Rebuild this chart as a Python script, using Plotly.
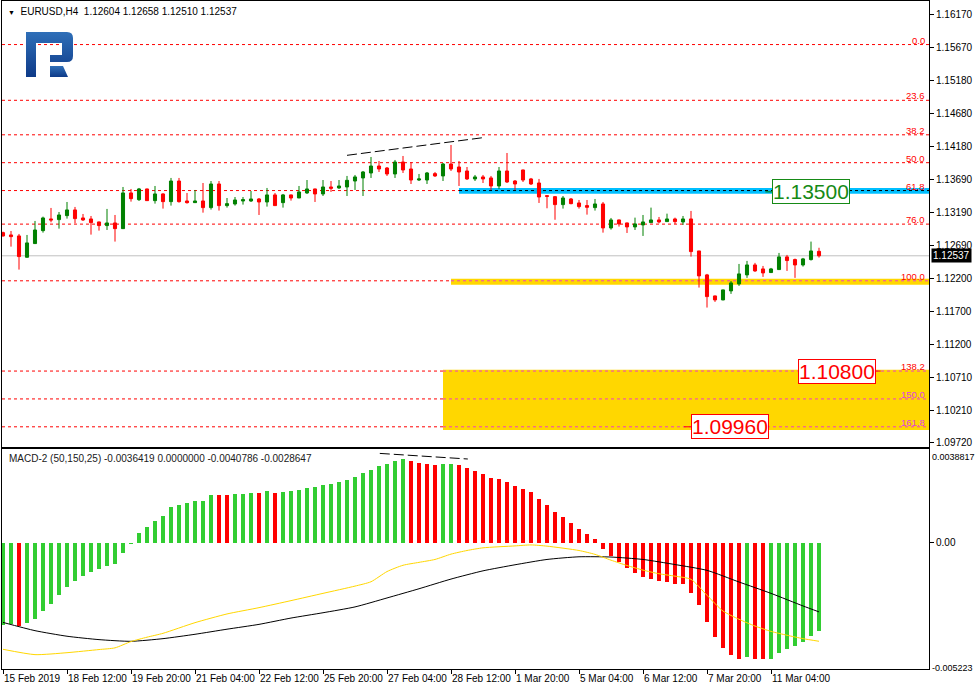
import base64
import plotly.graph_objects as go

# ---------------- data ----------------
bar_idx = list(range(103))
opens = [1.12886, 1.12851, 1.12836, 1.12515, 1.12721, 1.12916, 1.13092, 1.13082, 1.13142, 1.13228,
         1.13107, 1.13092, 1.13047, 1.12992, 1.13032, 1.12946, 1.13484, 1.13383, 1.13544, 1.13368,
         1.13469, 1.13353, 1.13664, 1.13363, 1.13338, 1.13363, 1.13263, 1.13619, 1.13293, 1.13318,
         1.13363, 1.13363, 1.13393, 1.13348, 1.13454, 1.13338, 1.13454, 1.13408, 1.13484, 1.13544,
         1.13469, 1.13574, 1.13559, 1.13574, 1.13664, 1.13710, 1.13785, 1.13890, 1.13860, 1.13770,
         1.13950, 1.13845, 1.13679, 1.13679, 1.13775, 1.13740, 1.13920, 1.13875, 1.13815, 1.13695,
         1.13725, 1.13710, 1.13589, 1.13815, 1.13664, 1.13830, 1.13695, 1.13634, 1.13443, 1.13428,
         1.13308, 1.13393, 1.13333, 1.13293, 1.13263, 1.13318, 1.12957, 1.13077, 1.13032, 1.12972,
         1.13002, 1.13037, 1.13077, 1.13052, 1.13092, 1.13047, 1.13092, 1.12610, 1.12249, 1.11932,
         1.11872, 1.12008, 1.12113, 1.12249, 1.12399, 1.12339, 1.12284, 1.12329, 1.12520, 1.12480,
         1.12399, 1.12480, 1.12604]
highs = [1.12901, 1.12911, 1.12866, 1.12851, 1.13062, 1.13127, 1.13258, 1.13197, 1.13348, 1.13273,
         1.13167, 1.13137, 1.13052, 1.13243, 1.13152, 1.13574, 1.13544, 1.13559, 1.13549, 1.13589,
         1.13479, 1.13710, 1.13710, 1.13484, 1.13529, 1.13634, 1.13664, 1.13664, 1.13408, 1.13423,
         1.13423, 1.13514, 1.13408, 1.13559, 1.13484, 1.13469, 1.13459, 1.13589, 1.13679, 1.13549,
         1.13679, 1.13664, 1.13679, 1.13740, 1.13755, 1.13815, 1.14026, 1.13966, 1.13875, 1.13981,
         1.14041, 1.13950, 1.13770, 1.13800, 1.13800, 1.13935, 1.14207, 1.13966, 1.13875, 1.13755,
         1.13755, 1.13740, 1.13875, 1.14086, 1.13679, 1.13835, 1.13710, 1.13695, 1.13448, 1.13438,
         1.13438, 1.13408, 1.13378, 1.13378, 1.13393, 1.13348, 1.13107, 1.13082, 1.13037, 1.13112,
         1.13152, 1.13263, 1.13122, 1.13172, 1.13112, 1.13137, 1.13213, 1.12610, 1.12264, 1.11937,
         1.12028, 1.12158, 1.12414, 1.12460, 1.12430, 1.12384, 1.12354, 1.12580, 1.12550, 1.12495,
         1.12505, 1.12751, 1.12658]
lows = [1.12826, 1.12675, 1.12329, 1.12510, 1.12716, 1.12886, 1.13042, 1.12946, 1.13097, 1.13027,
        1.13062, 1.12856, 1.12916, 1.12926, 1.12751, 1.12941, 1.13353, 1.13363, 1.13368, 1.13323,
        1.13248, 1.13293, 1.13338, 1.13323, 1.13333, 1.13187, 1.13233, 1.13218, 1.13263, 1.13293,
        1.13308, 1.13348, 1.13152, 1.13278, 1.13293, 1.13263, 1.13368, 1.13408, 1.13469, 1.13348,
        1.13438, 1.13499, 1.13544, 1.13438, 1.13529, 1.13438, 1.13710, 1.13800, 1.13740, 1.13710,
        1.13785, 1.13619, 1.13664, 1.13619, 1.13725, 1.13664, 1.13815, 1.13589, 1.13679, 1.13664,
        1.13634, 1.13529, 1.13544, 1.13634, 1.13529, 1.13649, 1.13604, 1.13333, 1.13253, 1.13080,
        1.13248, 1.13313, 1.13248, 1.13157, 1.13218, 1.12886, 1.12931, 1.12977, 1.12881, 1.12926,
        1.12836, 1.13032, 1.13027, 1.13047, 1.13017, 1.13002, 1.12525, 1.12058, 1.11757, 1.11842,
        1.11867, 1.11963, 1.12083, 1.12204, 1.12294, 1.12219, 1.12279, 1.12324, 1.12309, 1.12204,
        1.12374, 1.12465, 1.12510]
closes = [1.12836, 1.12826, 1.12525, 1.12731, 1.12926, 1.13107, 1.13077, 1.13152, 1.13228, 1.13097,
          1.13077, 1.13037, 1.12992, 1.13032, 1.12946, 1.13484, 1.13398, 1.13544, 1.13368, 1.13469,
          1.13353, 1.13664, 1.13353, 1.13338, 1.13363, 1.13263, 1.13619, 1.13293, 1.13323, 1.13378,
          1.13383, 1.13393, 1.13348, 1.13454, 1.13293, 1.13454, 1.13408, 1.13499, 1.13544, 1.13469,
          1.13574, 1.13554, 1.13589, 1.13674, 1.13725, 1.13800, 1.13890, 1.13845, 1.13770, 1.13950,
          1.13830, 1.13679, 1.13695, 1.13785, 1.13740, 1.13920, 1.13845, 1.13800, 1.13695, 1.13725,
          1.13695, 1.13589, 1.13815, 1.13649, 1.13619, 1.13679, 1.13619, 1.13423, 1.13433, 1.13308,
          1.13408, 1.13323, 1.13278, 1.13268, 1.13318, 1.12957, 1.13077, 1.13017, 1.12972, 1.13017,
          1.13047, 1.13077, 1.13047, 1.13092, 1.13052, 1.13092, 1.12600, 1.12234, 1.11922, 1.11872,
          1.12023, 1.12128, 1.12264, 1.12399, 1.12309, 1.12279, 1.12339, 1.12520, 1.12465, 1.12399,
          1.12490, 1.12610, 1.12537]

macd_hist = [-0.00338, -0.00334, -0.00342, -0.00332, -0.00313, -0.00279, -0.00250, -0.00213, -0.00180, -0.00155,
             -0.00135, -0.00118, -0.00106, -0.00093, -0.00085, -0.00040, -0.00003, 0.00041, 0.00066, 0.00092,
             0.00111, 0.00148, 0.00157, 0.00166, 0.00173, 0.00173, 0.00198, 0.00198, 0.00198, 0.00203,
             0.00203, 0.00206, 0.00207, 0.00214, 0.00207, 0.00210, 0.00214, 0.00220, 0.00228, 0.00233,
             0.00240, 0.00244, 0.00251, 0.00260, 0.00272, 0.00288, 0.00303, 0.00319, 0.00327, 0.00338,
             0.00346, 0.00338, 0.00330, 0.00325, 0.00323, 0.00325, 0.00325, 0.00321, 0.00309, 0.00297,
             0.00284, 0.00268, 0.00264, 0.00251, 0.00235, 0.00222, 0.00210, 0.00181, 0.00157, 0.00129,
             0.00107, 0.00082, 0.00058, 0.00037, 0.00016, -0.00023, -0.00052, -0.00077, -0.00102, -0.00122,
             -0.00139, -0.00147, -0.00155, -0.00159, -0.00168, -0.00168, -0.00205, -0.00258, -0.00328, -0.00390,
             -0.00435, -0.00463, -0.00477, -0.00472, -0.00477, -0.00481, -0.00477, -0.00456, -0.00439, -0.00427,
             -0.00409, -0.00382, -0.0036419]
hist_rising = ("11" "0" "111111111111111111111111" "00" "111" "0" "1" "0"
               "1111111111111111" "0000" "11" "000000000000000000000000000000000000"
               "1" "00" "1111111")

black_idx = [0, 4, 8, 12, 16, 20, 24, 28, 32, 36, 40, 44, 48, 52, 56, 60, 64, 68, 72, 76,
             80, 84, 88, 92, 96, 100, 102]
black_val = [-0.00330, -0.00364, -0.00387, -0.00401, -0.00408, -0.00397, -0.00379, -0.00358, -0.00338,
             -0.00312, -0.00290, -0.00266, -0.00229, -0.00191, -0.00151, -0.00117, -0.00092, -0.00070,
             -0.00059, -0.00060, -0.00070, -0.00091, -0.00115, -0.00163, -0.00210, -0.00262, -0.0028647]
yellow_idx = [0, 4, 8, 12, 14, 16, 18, 20, 24, 28, 32, 36, 40, 44, 46, 48, 50, 52, 54, 56, 58, 60,
              64, 66, 68, 72, 74, 76, 78, 80, 82, 84, 86, 88, 90, 92, 94, 96, 98, 100, 102]
yellow_val = [-0.00441, -0.00463, -0.00455, -0.00442, -0.00435, -0.00409, -0.00391, -0.00375, -0.00331,
              -0.00295, -0.00269, -0.00240, -0.00210, -0.00180, -0.00162, -0.00120, -0.00094, -0.00082,
              -0.00070, -0.00048, -0.00033, -0.00022, -0.00014, -0.00010, -0.00015, -0.00033, -0.00049,
              -0.00073, -0.00095, -0.00114, -0.00129, -0.00139, -0.00152, -0.00218, -0.00283, -0.00317,
              -0.00345, -0.00367, -0.00383, -0.00397, -0.0040786]

x_tick_idx = [0, 8, 16, 24, 32, 40, 48, 56, 64, 72, 80, 88, 96]
x_tick_text = ["15 Feb 2019", "18 Feb 12:00", "19 Feb 20:00", "21 Feb 04:00", "22 Feb 12:00",
               "25 Feb 20:00", "27 Feb 04:00", "28 Feb 12:00", "1 Mar 20:00", "5 Mar 04:00",
               "6 Mar 12:00", "7 Mar 20:00", "11 Mar 04:00"]
price_ticks = [1.16170, 1.15670, 1.15180, 1.14680, 1.14180, 1.13690, 1.13190, 1.12690,
               1.12200, 1.11700, 1.11200, 1.10710, 1.10210, 1.09720]

fib_start = 1.1572      # 0.0 level
fib_end = 1.1216        # 100.0 level
fib_levels = [0.0, 23.6, 38.2, 50.0, 61.8, 76.0, 100.0, 138.2, 150.0, 161.8]

target_up = 1.13500
target_low1 = 1.10800
target_low2 = 1.09960
blue_zone = (57, 1.1347, 1.1356)
yellow_zone_small = (56, 1.1210, 1.1219)
yellow_zone_big = (55, 1.0991, 1.1082)
price_div_line = [(43, 1.14051), (60, 1.14317)]
macd_div_line = [(47.1, 0.003679), (58.1, 0.003448)]
macd_top, macd_bottom = 0.0038817, -0.0052233

# ---------------- figure ----------------
FONT = "Liberation Sans"
fig = go.Figure()

fig.add_trace(go.Candlestick(
    x=bar_idx, open=opens, high=highs, low=lows, close=closes,
    increasing=dict(line=dict(color="#008000", width=1), fillcolor="#008000"),
    decreasing=dict(line=dict(color="#FF0000", width=1), fillcolor="#FF0000"),
    whiskerwidth=0, xaxis="x", yaxis="y", hoverinfo="skip"))

fig.add_trace(go.Bar(
    x=bar_idx, y=macd_hist, width=0.5,
    marker=dict(color=["#32CD32" if c == "1" else "#FF0000" for c in hist_rising], line=dict(width=0)),
    xaxis="x2", yaxis="y2", hoverinfo="skip"))
fig.add_trace(go.Scatter(x=black_idx, y=black_val, mode="lines", line_shape="spline",
                         line=dict(color="#000000", width=1, smoothing=0.6), xaxis="x2", yaxis="y2",
                         hoverinfo="skip"))
fig.add_trace(go.Scatter(x=yellow_idx, y=yellow_val, mode="lines", line_shape="spline",
                         line=dict(color="#FFD700", width=1, smoothing=0.6), xaxis="x2", yaxis="y2",
                         hoverinfo="skip"))

shapes = []
for (x0, y0, y1), col in [(blue_zone, "#00BFFF"), (yellow_zone_small, "#FFD700"), (yellow_zone_big, "#FFD700")]:
    shapes.append(dict(type="rect", xref="x", yref="y", x0=x0, x1=200, y0=y0, y1=y1,
                       fillcolor=col, line=dict(width=0), layer="below"))

annotations = []
for lvl in fib_levels:
    p = fib_start - (fib_start - fib_end) * lvl / 100.0
    shapes.append(dict(type="line", xref="x domain", yref="y", x0=0, x1=1, y0=p, y1=p,
                       line=dict(color="#FF0000", width=1, dash="3px,3px"), layer="below"))
    inner = None
    if abs(lvl - 61.8) < 1e-6:
        inner = (blue_zone[0], "#000000")
    elif lvl == 100.0:
        inner = (yellow_zone_small[0], "#F040C0")
    elif lvl >= 138.2:
        inner = (yellow_zone_big[0], "#F040C0")
    if inner:
        shapes.append(dict(type="line", xref="x", yref="y", x0=inner[0], x1=200, y0=p, y1=p,
                           line=dict(color=inner[1], width=1, dash="3px,3px"), layer="below"))
    lab_col = "#E040E0" if lvl in (150.0, 161.8) else "#FF0000"
    annotations.append(dict(xref="x domain", yref="y", x=0.9975, y=p, xanchor="right", yanchor="bottom",
                            text=f"{lvl:.1f}", showarrow=False, yshift=-3,
                            font=dict(family=FONT, size=9.5, color=lab_col)))

shapes.append(dict(type="line", xref="x domain", yref="y", x0=0, x1=1, y0=closes[-1], y1=closes[-1],
                   line=dict(color="#C0C0C0", width=1), layer="below"))

shapes.append(dict(type="line", xref="x", yref="y", x0=price_div_line[0][0], y0=price_div_line[0][1],
                   x1=price_div_line[1][0], y1=price_div_line[1][1],
                   line=dict(color="#000000", width=1, dash="10px,4px")))
shapes.append(dict(type="line", xref="x2", yref="y2", x0=macd_div_line[0][0], y0=macd_div_line[0][1],
                   x1=macd_div_line[1][0], y1=macd_div_line[1][1],
                   line=dict(color="#000000", width=1, dash="10px,4px")))

shapes.append(dict(type="line", xref="x", yref="y", x0=95.3, x1=96.6, y0=target_up, y1=target_up,
                   line=dict(color="#008000", width=1)))
shapes.append(dict(type="line", xref="x", yref="y", x0=85.1, x1=86.5, y0=target_low2, y1=target_low2,
                   line=dict(color="#FF0000", width=1)))
shapes.append(dict(type="line", xref="x", yref="y", x0=108.8, x1=109.7, y0=target_low1, y1=target_low1,
                   line=dict(color="#FF0000", width=1)))

for xi, val, col in [(101.0, target_up, "#168A16"), (104.2, target_low1, "#FF0000"), (90.9, target_low2, "#FF0000")]:
    annotations.append(dict(xref="x", yref="y", x=xi, y=val, text=f"{val:.5f}", showarrow=False,
                            xanchor="center", yanchor="middle", bgcolor="#FFFFFF", bordercolor=col,
                            borderwidth=1, borderpad=0,
                            font=dict(family=FONT, size=21, color=col)))

annotations.append(dict(xref="paper", yref="y", x=1, y=closes[-1], xanchor="left", yanchor="middle",
                        xshift=2, text=f"{closes[-1]:.5f}", showarrow=False, bgcolor="#000000",
                        borderpad=1, font=dict(family=FONT, size=10, color="#FFFFFF")))

annotations.append(dict(xref="paper", yref="paper", x=0.004, y=0.985, xanchor="left", yanchor="middle",
                        showarrow=False,
                        text=(f"<span style='font-size:7px'>▼</span>  EURUSD,H4  {opens[-1]:.5f} "
                              f"{highs[-1]:.5f} {lows[-1]:.5f} {closes[-1]:.5f}"),
                        font=dict(family=FONT, size=10, color="#000000")))
annotations.append(dict(xref="paper", yref="y2", x=0.005, y=macd_top, xanchor="left", yanchor="top",
                        yshift=-2, showarrow=False,
                        text=(f"MACD-2 (50,150,25) {macd_hist[-1]:.7f} 0.0000000 "
                              f"{yellow_val[-1]:.7f} {black_val[-1]:.7f}"),
                        font=dict(family=FONT, size=10, color="#202020")))
annotations.append(dict(xref="paper", yref="y2", x=1, y=macd_top, xanchor="left", yanchor="top",
                        xshift=1, yshift=-1, showarrow=False, text=f"{macd_top:.7f}",
                        font=dict(family=FONT, size=9, color="#000000")))
annotations.append(dict(xref="paper", yref="y2", x=1, y=macd_bottom, xanchor="left", yanchor="middle",
                        xshift=1, yshift=1, showarrow=False, text=f"{macd_bottom:.6f}",
                        font=dict(family=FONT, size=9, color="#000000")))

svg = ('<svg xmlns="http://www.w3.org/2000/svg" width="47" height="45" viewBox="0 0 47 45">'
       '<defs><linearGradient id="g" x1="0" y1="0" x2="0" y2="1">'
       '<stop offset="0" stop-color="#2F6FB8"/><stop offset="1" stop-color="#0E3A88"/></linearGradient></defs>'
       '<path fill="url(#g)" d="M0 0 H41 Q47 0 47 6 V24 Q47 30 41 30 H24 V23 H36 V11 H10 V45 H0 Z"/>'
       '<path fill="url(#g)" d="M24 34 H37 L42 45 H24 Z"/></svg>')
logo_src = "data:image/svg+xml;base64," + base64.b64encode(svg.encode()).decode()

W, H = 975, 690
ML, MR, MT, MB = 2, 46, 1, 21
PW, PH = W - ML - MR, H - MT - MB

def py(pix):
    return (H - MB - pix) / PH

axis_common = dict(showline=True, mirror=True, linecolor="#000000", linewidth=1, showgrid=False,
                   zeroline=False, automargin=False, fixedrange=True)

fig.update_layout(
    template="none",
    width=W, height=H, margin=dict(l=ML, r=MR, t=MT, b=MB, autoexpand=False),
    paper_bgcolor="#FFFFFF", plot_bgcolor="#FFFFFF", showlegend=False,
    boxgap=0.45, bargap=0,
    font=dict(family=FONT, size=10, color="#000000"),
    xaxis=dict(domain=[0, 1], range=[-0.125, 115.75], anchor="y", showticklabels=False, ticks="",
               rangeslider=dict(visible=False), **axis_common),
    xaxis2=dict(domain=[0, 1], range=[-0.125, 115.75], anchor="y2", matches="x",
                tickmode="array", tickvals=x_tick_idx, ticktext=x_tick_text, ticks="outside",
                ticklen=4, tickcolor="#000000", ticklabelposition="outside right", tickangle=0,
                tickfont=dict(family=FONT, size=10, color="#000000"), **axis_common),
    yaxis=dict(domain=[py(446.5), 1], range=[1.096631, 1.163764], anchor="x", side="right",
               tickmode="array", tickvals=price_ticks,
               ticktext=[f"{v:.5f}" for v in price_ticks], ticks="outside", ticklen=4,
               tickcolor="#000000", tickfont=dict(family=FONT, size=10, color="#000000"), **axis_common),
    yaxis2=dict(domain=[0, py(448.5)], range=[macd_bottom, macd_top], anchor="x2", side="right",
                tickmode="array", tickvals=[0], ticktext=["0.00"], ticks="outside",
                ticklen=4, tickcolor="#000000", tickfont=dict(family=FONT, size=10, color="#000000"),
                **axis_common),
    shapes=shapes, annotations=annotations,
    images=[dict(source=logo_src, xref="paper", yref="paper", x=(26 - ML) / PW, y=py(32),
                 sizex=47 / PW, sizey=45 / PH, xanchor="left", yanchor="top", sizing="stretch",
                 layer="above")],
)

fig.write_html("out.html", config={"displayModeBar": False},
               post_script="document.body.style.margin='0px';")
